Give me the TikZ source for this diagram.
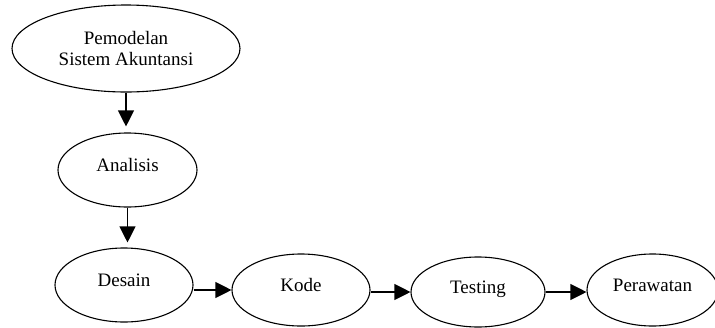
\documentclass[tikz,border=0pt]{standalone}
\usepackage{fontspec}
\setmainfont{Liberation Serif}
\usetikzlibrary{shapes.geometric,arrows.meta}

\tikzset{
  tahap/.style={ellipse, draw, line width=1.1pt, inner sep=0pt,
    minimum width=138pt, minimum height=73pt,
    font=\fontsize{19}{21}\selectfont, text height=12pt, text depth=9pt},
  panah/.style={-{Triangle[length=16pt,width=16pt]}, line width=1.1pt}
}

\begin{document}
\begin{tikzpicture}[x=1pt, y=-1pt]
    \useasboundingbox (0,0) rectangle (715,327);
    \node[tahap, minimum width=228pt, minimum height=87pt, align=center,
      text height=, text depth=] (model) at (126,48.5) {Pemodelan\\Sistem Akuntansi};
    \node[tahap, minimum width=139pt, minimum height=74pt] (analisis) at (127.5,170) {Analisis};
    \node[tahap, minimum height=74pt] (desain) at (124,285) {Desain};
    \node[tahap, minimum height=72pt] (kode) at (301,290) {Kode};
    \node[tahap, minimum width=134pt, minimum height=70pt] (testing) at (478,292) {Testing};
    \node[tahap, minimum width=131pt, minimum height=72pt] (rawat) at (652.5,290) {Perawatan};
    % alur tahapan
    \draw[panah, shorten >=6pt] (model) -- (model |- analisis.north);
    \draw[panah, shorten >=5pt] (analisis) -- (analisis |- desain.north);
    \draw[panah] (desain.east |- kode) -- (kode.west);
    \draw[panah] (kode.east |- testing) -- (testing.west);
    \draw[panah] (testing.east) -- (rawat.west |- testing);
\end{tikzpicture}
\end{document}
